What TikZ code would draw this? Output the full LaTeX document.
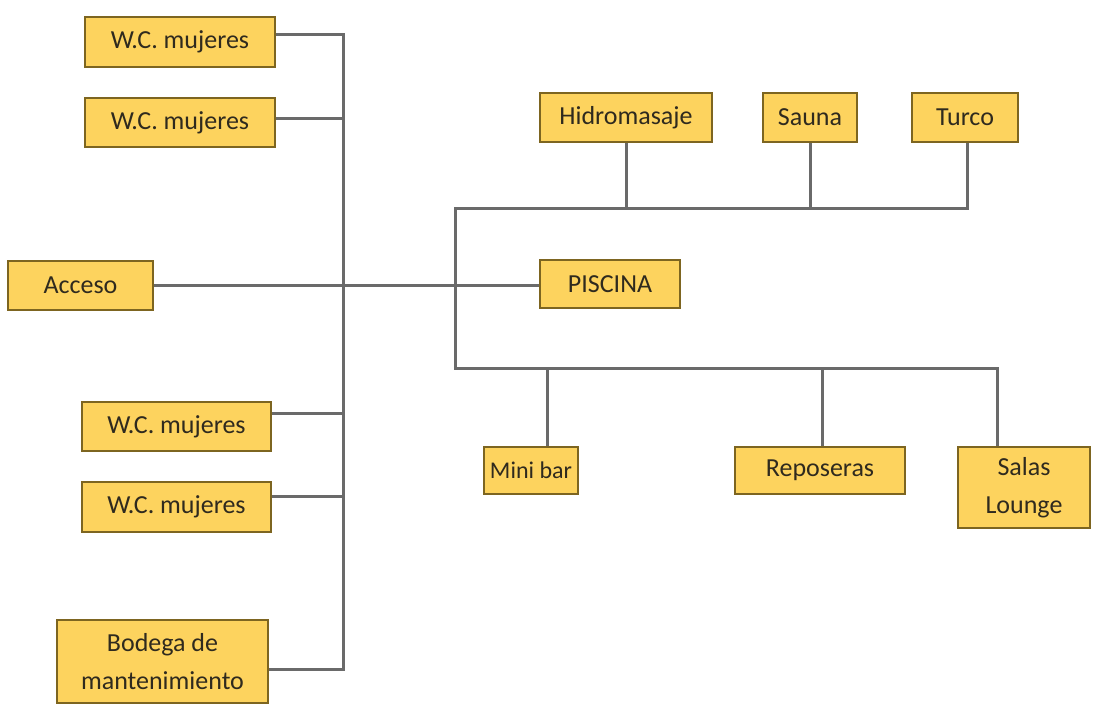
\documentclass[tikz,border=0pt]{standalone}
\usepackage{fontspec}
\setmainfont{Carlito}
\usetikzlibrary{positioning, calc}
\definecolor{gold}{HTML}{FDD35E}
\definecolor{dkgold}{HTML}{7D6520}
\definecolor{ink}{HTML}{2F2A1E}
\definecolor{wire}{HTML}{6A6A6A}

\begin{document}
\begin{tikzpicture}[
    x=1pt, y=-1pt,
    every node/.style={text=ink},
    box/.style={draw=dkgold, fill=gold, line width=1.4pt, inner sep=0pt,
                align=center, font=\fontsize{26}{38}\selectfont},
  ]

  % Canvas
  \useasboundingbox (0,0) rectangle (1094,704);

  % Nodes, left side
  \node[box, minimum width=190pt, minimum height=50pt] (wc1) at (180,42) {W.C. mujeres};
  \node[box, minimum width=190pt, minimum height=49pt] (wc2) at (180,122.5) {W.C. mujeres};
  \node[box, minimum width=145pt, minimum height=49pt] (acceso) at (80.5,285.5) {Acceso};
  \node[box, minimum width=189pt, minimum height=49pt] (wc3) at (176.5,426.5) {W.C. mujeres};
  \node[box, minimum width=189pt, minimum height=50pt] (wc4) at (176.5,507) {W.C. mujeres};
  \node[box, minimum width=211pt, minimum height=83pt] (bodega) at (162.5,661.5)
    {Bodega de\\mantenimiento};

  % Nodes, right side
  \node[box, minimum width=140pt, minimum height=48pt] (piscina) at (610,284) {PISCINA};
  \node[box, minimum width=172pt, minimum height=49pt] (hidro) at (626,117.5) {Hidromasaje};
  \node[box, minimum width=94pt, minimum height=49pt] (sauna) at (810,117.5) {Sauna};
  \node[box, minimum width=106pt, minimum height=49pt] (turco) at (965,117.5) {Turco};
  \node[box, minimum width=94pt, minimum height=47pt, font=\fontsize{24}{30}\selectfont]
    (minibar) at (531,470.5) {Mini bar};
  \node[box, minimum width=170pt, minimum height=47pt] (reposeras) at (820,470.5) {Reposeras};
  \node[box, minimum width=132pt, minimum height=81pt] (salas) at (1024,487.5)
    {Salas\\Lounge};

  % Junctions
  \coordinate (ltop) at (343,34);
  \coordinate (rtop) at (455,208);
  \coordinate (rbot) at (455,368);

  % Edge style
  \tikzset{
    link/.style={wire, line width=3pt},
  }

  % Left trunk
  \draw[link] ([yshift=8pt]wc1.east) -- (ltop) |- ([yshift=-7.5pt]bodega.east);
  \draw[link] ([yshift=4.5pt]wc2.east) -| (ltop);
  \draw[link] ([yshift=13.5pt]wc3.east) -| (ltop);
  \draw[link] ([yshift=11pt]wc4.east) -| (ltop);
  \draw[link] (acceso.east) -- (acceso.east -| piscina.west);

  % Right trunk
  \draw[link] ([xshift=2pt]turco.south) |- (rtop) -- (rbot) -| ([xshift=-27pt]salas.north);
  \draw[link] (hidro.south) -- (hidro.south |- rtop);
  \draw[link] (sauna.south) -- (sauna.south |- rtop);
  \draw[link] ([xshift=16pt]minibar.north) -- ([xshift=16pt]minibar.north |- rbot);
  \draw[link] ([xshift=2pt]reposeras.north) -- ([xshift=2pt]reposeras.north |- rbot);

\end{tikzpicture}
\end{document}
